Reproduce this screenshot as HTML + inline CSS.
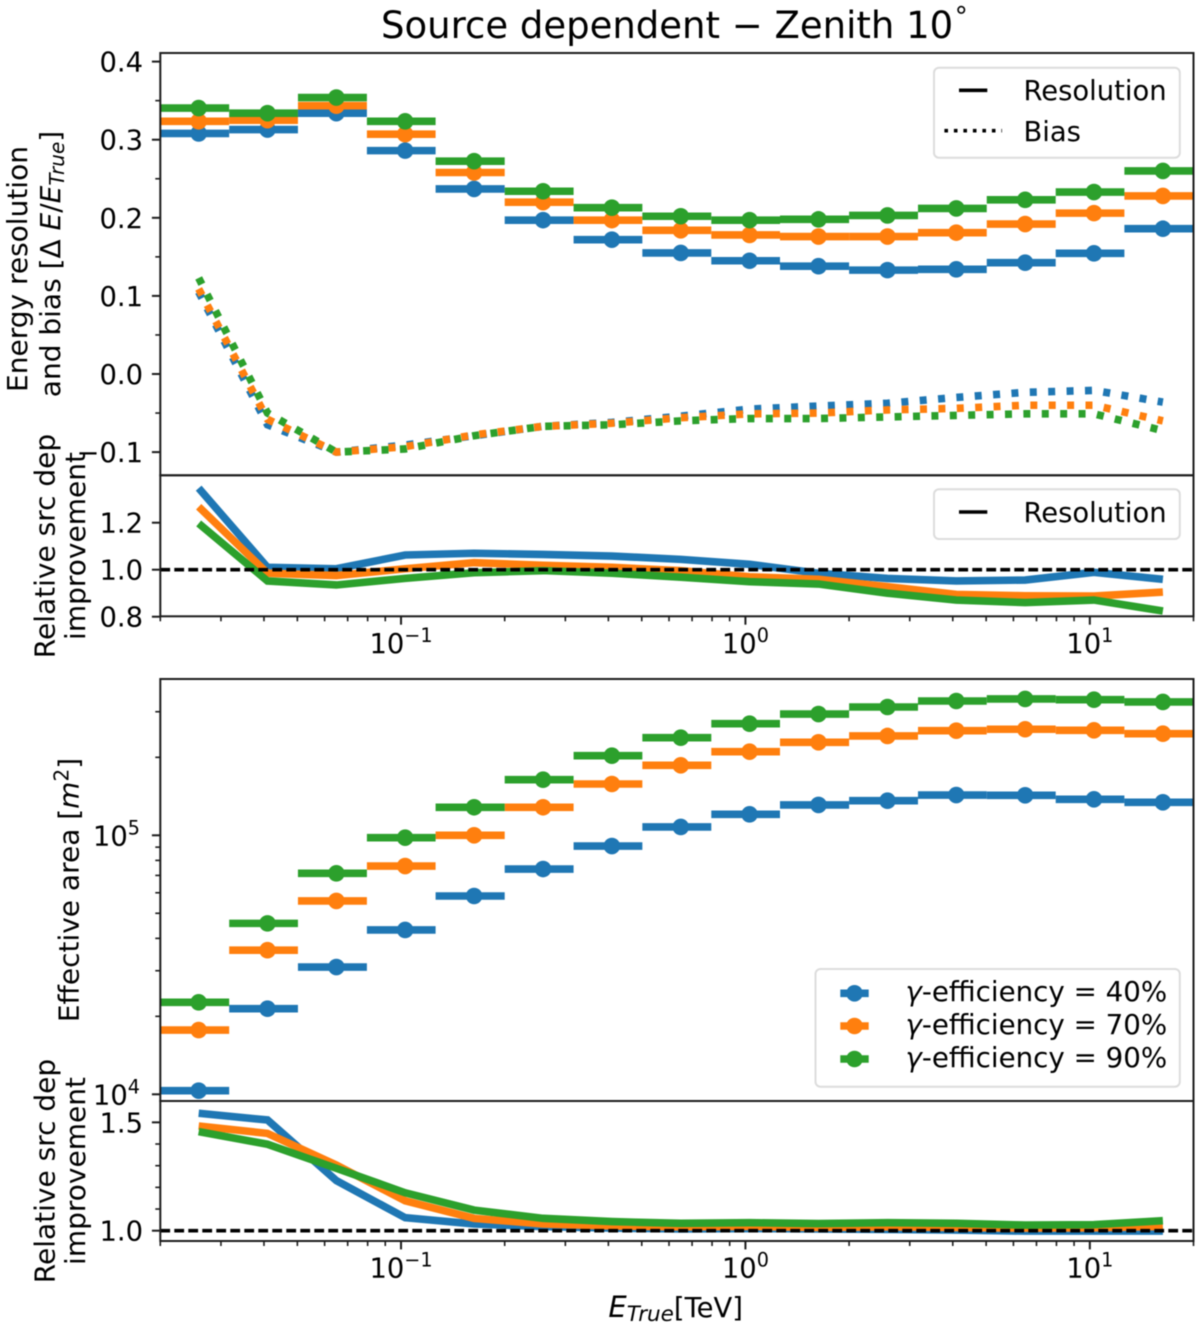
<!DOCTYPE html>
<html lang="en">
<head>
<meta charset="utf-8">
<title>Source dependent − Zenith 10°</title>
<style>
html,body{margin:0;padding:0;background:#fff;}
svg{display:block;filter:blur(0.45px);}
text{font-family:"DejaVu Sans","Liberation Sans",sans-serif;fill:#000;}
.t{font-size:27.4px;}
.y{font-size:28px;}
.g{font-size:27.7px;}
</style>
</head>
<body>
<svg id="chart" xmlns="http://www.w3.org/2000/svg" width="1200" height="1326" viewBox="0 0 1200 1326">
  <defs>
    <clipPath id="clip-p1"><rect x="160.3" y="53" width="1033.2" height="422.3"/></clipPath>
    <clipPath id="clip-p2"><rect x="160.3" y="475.3" width="1033.2" height="141"/></clipPath>
    <clipPath id="clip-p3"><rect x="160.3" y="679" width="1033.2" height="422"/></clipPath>
    <clipPath id="clip-p4"><rect x="160.3" y="1101" width="1033.2" height="140"/></clipPath>
  </defs>
  <g id="marks"></g>
  <g id="frames"></g>
  <g id="ticks"></g>

  <text x="381" y="38" font-size="37">Source dependent − Zenith 10<tspan font-size="26" dy="-20">∘</tspan></text>

  <text class="y" text-anchor="middle" transform="translate(26.8,269) rotate(-90)">Energy resolution</text>
  <text class="y" text-anchor="middle" transform="translate(60,264) rotate(-90)">and bias [Δ <tspan font-style="italic">E</tspan>/<tspan font-style="italic">E</tspan><tspan font-style="italic" font-size="20" dy="4">True</tspan><tspan dy="-4">]</tspan></text>
  <text class="y" text-anchor="middle" transform="translate(54.3,546) rotate(-90)">Relative src dep</text>
  <text class="y" text-anchor="middle" transform="translate(85,546) rotate(-90)">improvement</text>
  <text class="y" text-anchor="middle" transform="translate(78.5,890) rotate(-90)">Effective area [<tspan font-style="italic">m</tspan><tspan font-size="20" dy="-10">2</tspan><tspan dy="10">]</tspan></text>
  <text class="y" text-anchor="middle" transform="translate(54.3,1171) rotate(-90)">Relative src dep</text>
  <text class="y" text-anchor="middle" transform="translate(85,1171) rotate(-90)">improvement</text>
  <text class="t" text-anchor="middle" x="675.7" y="1317"><tspan font-style="italic" font-size="29">E</tspan><tspan font-style="italic" font-size="21.5" dy="4">True</tspan><tspan dy="-4">[TeV]</tspan></text>

  <g>
    <rect x="934" y="67.7" width="245.8" height="90" rx="5" fill="#fff" fill-opacity="0.8" stroke="#dcdcdc" stroke-width="2"/>
    <line x1="959" x2="987.3" y1="90.3" y2="90.3" stroke="#000" stroke-width="3.6"/>
    <text class="t" x="1023.5" y="100">Resolution</text>
    <line x1="944.4" x2="1002" y1="130.7" y2="130.7" stroke="#000" stroke-width="3.6" stroke-dasharray="3.6 5.9"/>
    <text class="t" x="1023.5" y="141">Bias</text>
  </g>
  <g>
    <rect x="934" y="489.3" width="245.8" height="49.7" rx="5" fill="#fff" fill-opacity="0.8" stroke="#dcdcdc" stroke-width="2"/>
    <line x1="959" x2="987.3" y1="512" y2="512" stroke="#000" stroke-width="3.6"/>
    <text class="t" x="1023.5" y="522">Resolution</text>
  </g>
  <g>
    <rect x="815.5" y="969" width="364.3" height="117.7" rx="5" fill="#fff" fill-opacity="0.8" stroke="#dcdcdc" stroke-width="2"/>
    <line x1="840.3" x2="868.7" y1="993.3" y2="993.3" stroke="#1f77b4" stroke-width="7.6"/>
    <circle cx="854.5" cy="993.3" r="8.3" fill="#1f77b4"/>
    <text class="g" x="905.5" y="1001"><tspan font-style="italic">γ</tspan>-efficiency = 40%</text>
    <line x1="840.3" x2="868.7" y1="1026" y2="1026" stroke="#ff7f0e" stroke-width="7.6"/>
    <circle cx="854.5" cy="1026" r="8.3" fill="#ff7f0e"/>
    <text class="g" x="905.5" y="1034"><tspan font-style="italic">γ</tspan>-efficiency = 70%</text>
    <line x1="840.3" x2="868.7" y1="1059" y2="1059" stroke="#2ca02c" stroke-width="7.6"/>
    <circle cx="854.5" cy="1059" r="8.3" fill="#2ca02c"/>
    <text class="g" x="905.5" y="1067"><tspan font-style="italic">γ</tspan>-efficiency = 90%</text>
  </g>
</svg>

<script>
// ---- Data ----
const binEdges = [0.02,0.0317,0.0502,0.0796,0.126,0.2,0.317,0.502,0.796,1.26,2.0,3.17,5.02,7.96,12.6,20];
const seriesNames = ["40","70","90"];

const resolution40 = [0.308,0.313,0.334,0.286,0.237,0.197,0.172,0.155,0.145,0.138,0.133,0.134,0.1425,0.1545,0.186];
const resolution70 = [0.3235,0.325,0.3435,0.307,0.258,0.22,0.197,0.184,0.178,0.176,0.176,0.181,0.192,0.206,0.228];
const resolution90 = [0.3405,0.334,0.354,0.3235,0.2725,0.234,0.213,0.202,0.197,0.198,0.203,0.212,0.223,0.233,0.26];

const bias40 = [0.105,-0.065,-0.1,-0.091,-0.079,-0.067,-0.062,-0.054,-0.045,-0.041,-0.0375,-0.03,-0.0235,-0.021,-0.036];
const bias70 = [0.109,-0.058,-0.1,-0.093,-0.078,-0.067,-0.063,-0.056,-0.051,-0.05,-0.046,-0.044,-0.04,-0.04,-0.06];
const bias90 = [0.123,-0.05,-0.1,-0.096,-0.079,-0.067,-0.065,-0.06,-0.057,-0.057,-0.055,-0.053,-0.051,-0.051,-0.0725];

const resRatio40 = [1.347,1.01,1.004,1.0625,1.07,1.065,1.058,1.044,1.023,0.985,0.963,0.952,0.956,0.989,0.959];
const resRatio70 = [1.268,0.985,0.975,1.004,1.03,1.019,1.01,0.996,0.97,0.959,0.928,0.895,0.889,0.888,0.905];
const resRatio90 = [1.197,0.952,0.935,0.963,0.987,0.996,0.985,0.968,0.949,0.939,0.9,0.871,0.86,0.871,0.824];

const area40 = [10330,21400,31000,43100,58300,74100,90900,107700,120500,131000,136000,143000,142700,137700,134100];
const area70 = [17700,36000,55800,76100,100000,128300,157800,186300,210300,228600,241800,253500,256700,254300,246700];
const area90 = [22650,45700,71300,97900,128300,163900,202900,238100,269700,293900,312900,330000,336000,333800,327200];

const areaRatio40 = [1.542,1.511,1.231,1.06,1.031,1.019,1.012,1.008,1.01,1.008,1.006,1.003,0.998,0.998,0.998];
const areaRatio70 = [1.483,1.449,1.303,1.138,1.057,1.031,1.022,1.018,1.02,1.015,1.018,1.015,1.012,1.013,1.02];
const areaRatio90 = [1.457,1.399,1.288,1.175,1.095,1.057,1.042,1.034,1.037,1.033,1.037,1.034,1.026,1.028,1.046];

const xMajorTicks = [0.1,1,10];
const xMajorExponents = ["−1","0","1"];
const xMinorTicks = [0.02,0.03,0.04,0.05,0.06,0.07,0.08,0.09,0.2,0.3,0.4,0.5,0.6,0.7,0.8,0.9,2,3,4,5,6,7,8,9,20];
const resTicks = [0.4,0.3,0.2,0.1,0,-0.1];
const resTickLabels = ["0.4","0.3","0.2","0.1","0.0","−0.1"];
const resMinorTicks = [0.35,0.25,0.15,0.05,-0.05];
const ratioTopTicks = [1.2,1,0.8];
const ratioTopTickLabels = ["1.2","1.0","0.8"];
const areaTicks = [100000,10000];
const areaTickExponents = ["5","4"];
const areaMinorTicks = [20000,30000,40000,50000,60000,70000,80000,90000,200000,300000];
const ratioBottomTicks = [1.5,1];
const ratioBottomTickLabels = ["1.5","1.0"];
const ratioBottomMinorTicks = [1.1,1.2,1.3,1.4];

const resolutionSeries = [resolution40,resolution70,resolution90];
const biasSeries = [bias40,bias70,bias90];
const resRatioSeries = [resRatio40,resRatio70,resRatio90];
const areaSeries = [area40,area70,area90];
const areaRatioSeries = [areaRatio40,areaRatio70,areaRatio90];

// ---- Styling and axis functions ----
const colors = ["#1f77b4","#ff7f0e","#2ca02c"];
const NS = "http://www.w3.org/2000/svg";
const axL = 160.3, axR = 1193.5;
const spine = "#1c1c1c";

function xScale(e){ return axL + (Math.log10(e) - Math.log10(0.02)) / 3 * (axR - axL); }
function yRes(v){ return 374 - 781 * v; }
function yRatioTop(v){ return 569.7 - 235 * (v - 1); }
function yArea(v){ return 835.3 - 259 * (Math.log10(v) - 5); }
function yRatioBottom(v){ return 1230.7 - 216.7 * (v - 1); }

function mk(tag, attrs, parent){
  const el = document.createElementNS(NS, tag);
  for (const k in attrs) el.setAttribute(k, attrs[k]);
  parent.appendChild(el);
  return el;
}
function binCenter(i){ return (binEdges[i] + binEdges[i + 1]) / 2; }

const marks = document.getElementById("marks");
const frames = document.getElementById("frames");
const tickLayer = document.getElementById("ticks");

function drawBinned(parent, series, yFn, prefix){
  series.forEach(function(vals, s){
    vals.forEach(function(v, i){
      const bar = mk("line", {x1:xScale(binEdges[i]), x2:xScale(binEdges[i+1]), y1:yFn(v), y2:yFn(v), stroke:colors[s], "stroke-width":7.6}, parent);
      
      
      const dot = mk("circle", {cx:xScale(binCenter(i)), cy:yFn(v), r:8.3, fill:colors[s]}, parent);
      
      
    });
  });
}
function drawLines(parent, series, yFn, prefix, dash){
  series.forEach(function(vals, s){
    const pts = vals.map(function(v, i){ return xScale(binCenter(i)).toFixed(2) + "," + yFn(v).toFixed(2); }).join(" ");
    const attrs = {points:pts, fill:"none", stroke:colors[s], "stroke-width":7.6};
    if (dash) attrs["stroke-dasharray"] = dash;
    const line = mk("polyline", attrs, parent);
    
    
  });
}
function drawUnity(parent, yFn){
  const ref = mk("line", {x1:axL, x2:axR, y1:yFn(1), y2:yFn(1), stroke:"#000", "stroke-width":3.6, "stroke-dasharray":"9.8 4.2"}, parent);
  
  
}
function drawFrame(top, bottom, name){
  const r = mk("rect", {x:axL, y:top, width:axR-axL, height:bottom-top, fill:"none", stroke:spine, "stroke-width":2}, frames);
  
  
}
function yTick(y, len, w){
  const t = mk("line", {x1:axL-len, x2:axL, y1:y, y2:y, stroke:spine, "stroke-width":w}, tickLayer);
  
  
}
function yLabel(y, str){
  const t = mk("text", {x:143, y:y+10, "text-anchor":"end", "class":"t"}, tickLayer);
  
  
  t.textContent = str;
}
function powerLabel(x, y, exp, anchor){
  const t = mk("text", {x:x, y:y, "text-anchor":anchor, "class":"t"}, tickLayer);
  
  
  t.appendChild(document.createTextNode("10"));
  const sup = mk("tspan", {"font-size":19.2, dy:-11}, t);
  
  
  sup.textContent = exp;
}
function xTicks(bottom){
  xMinorTicks.forEach(function(e){
    const t = mk("line", {x1:xScale(e), x2:xScale(e), y1:bottom, y2:bottom+5, stroke:spine, "stroke-width":1.6}, tickLayer);
    
    
  });
  xMajorTicks.forEach(function(e, i){
    const t = mk("line", {x1:xScale(e), x2:xScale(e), y1:bottom, y2:bottom+8.4, stroke:spine, "stroke-width":2}, tickLayer);
    
    
    powerLabel(xScale(e), bottom+36.5, xMajorExponents[i], "middle");
  });
}

// Panel 1: resolution and bias
const g1 = mk("g", {"clip-path":"url(#clip-p1)"}, marks);


drawLines(g1, biasSeries, yRes, 'bias', "7 11.4");
drawBinned(g1, resolutionSeries, yRes, 'resolution');
drawFrame(53, 475.3, 'resolution-panel-frame');
resTicks.forEach(function(v, i){ yTick(yRes(v), 8.4, 2); yLabel(yRes(v), resTickLabels[i]); });
resMinorTicks.forEach(function(v){ yTick(yRes(v), 5, 1.6); });

// Panel 2: resolution improvement ratio
const g2 = mk("g", {"clip-path":"url(#clip-p2)"}, marks);


drawLines(g2, resRatioSeries, yRatioTop, 'resolution-ratio', null);
drawUnity(g2, yRatioTop);
drawFrame(475.3, 616.3, 'resolution-ratio-panel-frame');
ratioTopTicks.forEach(function(v, i){ yTick(yRatioTop(v), 8.4, 2); yLabel(yRatioTop(v), ratioTopTickLabels[i]); });
xTicks(616.3);

// Panel 3: effective area
const g3 = mk("g", {"clip-path":"url(#clip-p3)"}, marks);


drawBinned(g3, areaSeries, yArea, 'area');
drawFrame(679, 1101, 'effective-area-panel-frame');
areaTicks.forEach(function(v, i){ yTick(yArea(v), 8.4, 2); powerLabel(140, yArea(v)+10, areaTickExponents[i], "end"); });
areaMinorTicks.forEach(function(v){ yTick(yArea(v), 5, 1.6); });

// Panel 4: area improvement ratio
const g4 = mk("g", {"clip-path":"url(#clip-p4)"}, marks);


drawLines(g4, areaRatioSeries, yRatioBottom, 'area-ratio', null);
drawUnity(g4, yRatioBottom);
drawFrame(1101, 1241, 'area-ratio-panel-frame');
ratioBottomTicks.forEach(function(v, i){ yTick(yRatioBottom(v), 8.4, 2); yLabel(yRatioBottom(v), ratioBottomTickLabels[i]); });
ratioBottomMinorTicks.forEach(function(v){ yTick(yRatioBottom(v), 5, 1.6); });
xTicks(1241);
</script>
</body>
</html>
